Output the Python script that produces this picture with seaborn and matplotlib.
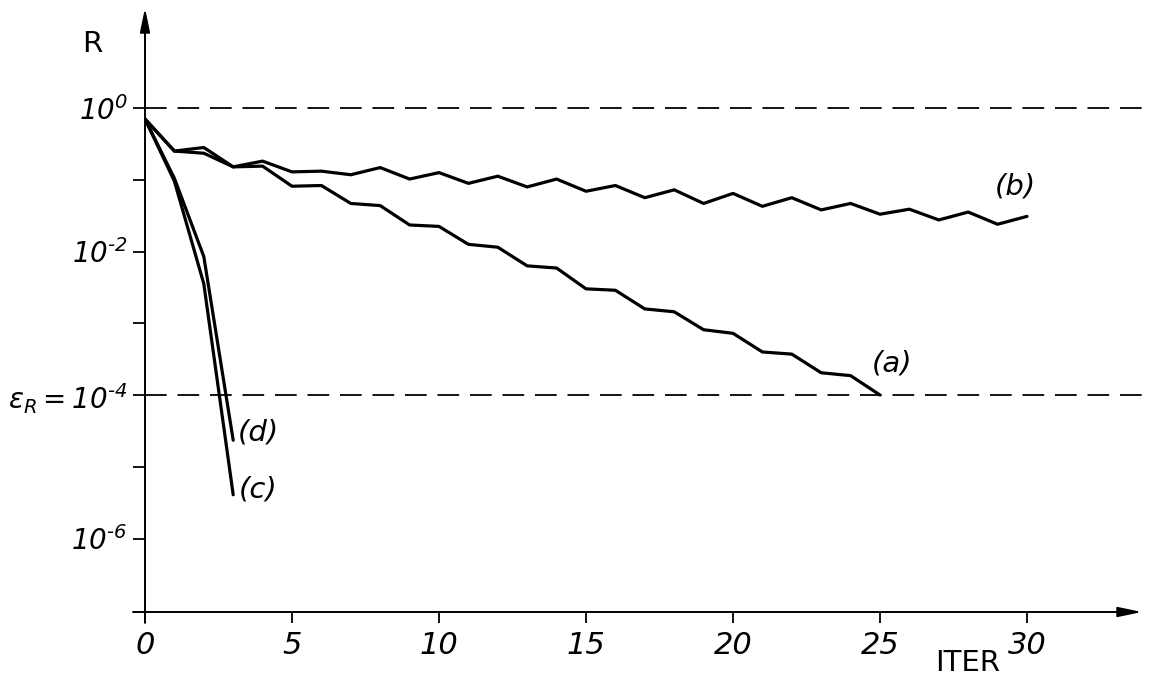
import matplotlib
matplotlib.use("Agg")
import matplotlib.pyplot as plt
import numpy as np
import pandas as pd
import seaborn as sns

# valeurs (log10 de R)
iter_a = list(range(0, 26))
log_r_a = [-0.153, -0.60, -0.63, -0.82, -0.81, -1.09, -1.08, -1.33, -1.36, -1.63,
           -1.65, -1.90, -1.94, -2.20, -2.23, -2.52, -2.54, -2.80, -2.84, -3.09,
           -3.14, -3.40, -3.43, -3.69, -3.73, -4.00]

iter_b = list(range(0, 31))
log_r_b = [-0.153, -0.60, -0.55, -0.82, -0.74, -0.89, -0.88, -0.93, -0.83, -0.99,
           -0.90, -1.05, -0.95, -1.10, -0.99, -1.16, -1.08, -1.25, -1.14, -1.33,
           -1.19, -1.37, -1.25, -1.42, -1.33, -1.48, -1.41, -1.56, -1.45, -1.62,
           -1.51]

iter_c = [0, 1, 2, 3]
log_r_c = [-0.153, -1.02, -2.45, -5.39]

iter_d = [0, 1, 2, 3]
log_r_d = [-0.153, -0.98, -2.07, -4.63]

HY = "\u2010"  # trait d'union court, comme sur l'original
x_ticks = [0, 5, 10, 15, 20, 25, 30]
y_major = [1e0, 1e-2, 1e-4, 1e-6]
y_major_labels = ["$10^{0}$", "$10^{" + HY + "2}$",
                  r"$\varepsilon_{R}{=}10^{" + HY + "4}$", "$10^{" + HY + "6}$"]
y_minor = [1e-1, 1e-3, 1e-5]

curve_labels = ["(a)", "(b)", "(c)", "(d)"]
label_pos = [(25.4, 10 ** -3.56), (29.6, 10 ** -1.10), (3.85, 10 ** -5.32), (3.85, 10 ** -4.52)]

sns.set_theme(style="white")
plt.rcParams["font.family"] = ["DejaVu Sans"]
plt.rcParams["text.color"] = "black"
plt.rcParams["mathtext.fontset"] = "custom"
plt.rcParams["mathtext.rm"] = "DejaVu Sans:italic"
plt.rcParams["mathtext.it"] = "DejaVu Sans:italic"
plt.rcParams["mathtext.default"] = "rm"

frames = []
for name, xs, ys in [("a", iter_a, log_r_a), ("b", iter_b, log_r_b),
                     ("c", iter_c, log_r_c), ("d", iter_d, log_r_d)]:
    frames.append(pd.DataFrame({"ITER": xs, "R": 10 ** np.array(ys), "curve": name}))
df = pd.concat(frames, ignore_index=True)

W, H = 1149, 688
fig = plt.figure(figsize=(W / 100, H / 100), dpi=100)
ax = fig.add_axes([145 / W, (H - 612) / H, (1142 - 145) / W, (612 - 8) / H])

for name in ["a", "b", "c", "d"]:
    sns.lineplot(data=df[df["curve"] == name], x="ITER", y="R", ax=ax,
                 color="black", linewidth=2.3, estimator=None, sort=False)

ax.set_yscale("log")
ax.set_xlim(0, (1142 - 145) / 29.4)
ax.set_ylim(10 ** -7.024, 10 ** 1.394)

# lignes de seuil
ax.axhline(1e0, xmin=0, xmax=1, color="black", lw=1.3, ls=(0, (12, 6)))
ax.axhline(1e-4, xmin=0, xmax=1, color="black", lw=1.3, ls=(0, (12, 6)))

for s in ax.spines.values():
    s.set_visible(False)

# axes avec fleches
ax.annotate("", xy=(1.0, 0), xytext=(-0.012, 0), xycoords="axes fraction",
            arrowprops=dict(arrowstyle="-|>,head_length=1.2,head_width=0.25",
                            color="black", lw=1.4, shrinkA=0, shrinkB=0))
ax.annotate("", xy=(0, 1.0), xytext=(0, -0.018), xycoords="axes fraction",
            arrowprops=dict(arrowstyle="-|>,head_length=1.2,head_width=0.25",
                            color="black", lw=1.4, shrinkA=0, shrinkB=0))

ax.set_xticks(x_ticks)
ax.set_xticklabels([str(t) for t in x_ticks], fontsize=22, style="italic")
ax.set_yticks(y_major)
ax.set_yticklabels(y_major_labels, fontsize=20)
ax.set_yticks(y_minor, minor=True)
ax.yaxis.set_minor_formatter(matplotlib.ticker.NullFormatter())
ax.tick_params(axis="x", which="both", direction="out", length=8, width=1.3,
               pad=6, bottom=True, colors="black")
ax.tick_params(axis="y", which="both", direction="out", length=8.5, width=1.3,
               pad=4, left=True, colors="black")
ax.set_xlabel("")
ax.set_ylabel("")

ax.text(-0.053, 0.94, "R", transform=ax.transAxes, fontsize=21, ha="center", va="center",
        color="black")
ax.text(0.825, -0.085, "ITER", transform=ax.transAxes, fontsize=21, ha="center", va="center",
        color="black")

for lab, (px, py) in zip(curve_labels, label_pos):
    ax.text(px, py, lab, fontsize=21, style="italic", ha="center", va="center", color="black")

fig.savefig("out.png", dpi=100, facecolor="white")
